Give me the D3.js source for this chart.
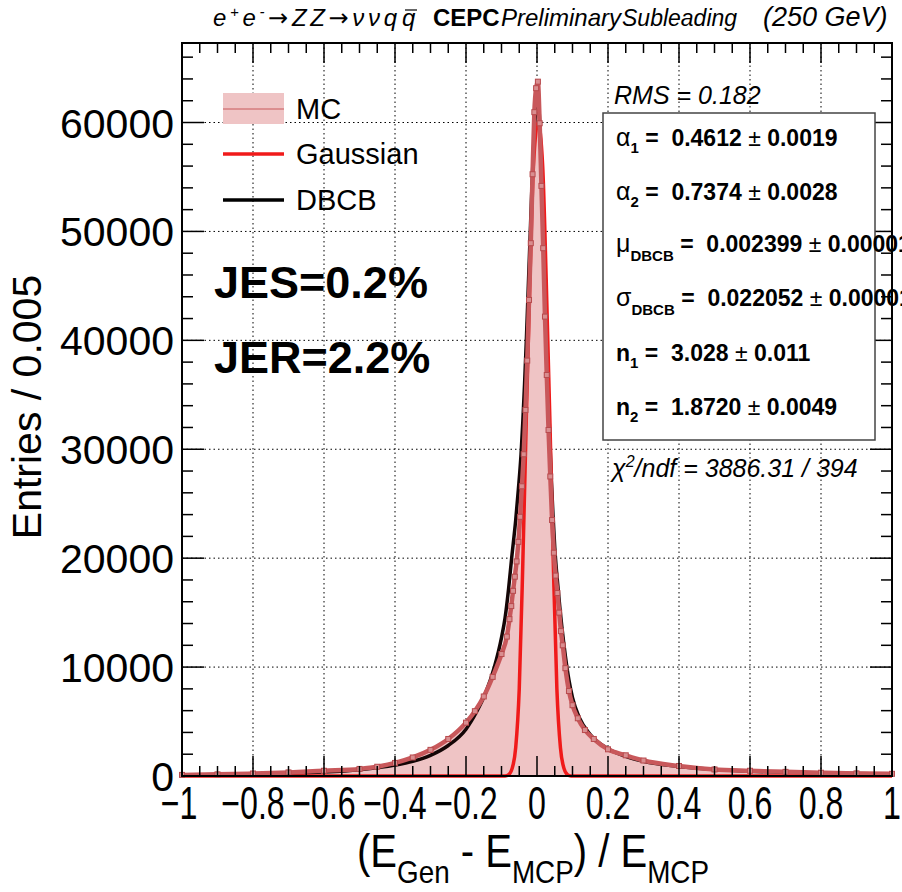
<!DOCTYPE html>
<html>
<head>
<meta charset="utf-8">
<script src="https://cdn.jsdelivr.net/npm/d3@7"></script>
<style>
    body { margin: 0; background: #fff; }
    svg { display: block; }
    text { font-family: "Liberation Sans", Arial, Helvetica, sans-serif; white-space: pre; }
</style>
</head>
<body>
<div id="chart"></div>
<script>
// MC histogram (bin centres, entries / 0.005)
let mcX = [-1.0, -0.9, -0.8, -0.7, -0.6, -0.5, -0.45, -0.4, -0.35, -0.3, -0.25, -0.2, -0.175, -0.15, -0.125, -0.1,
    -0.085, -0.0775, -0.0725, -0.0675, -0.0625, -0.0575, -0.0525, -0.0475, -0.0425, -0.0375, -0.0325, -0.0275,
    -0.0225, -0.0175, -0.0125, -0.0075, -0.0025, 0.0025, 0.0075, 0.0125, 0.0175, 0.0225, 0.0275, 0.0325, 0.0375,
    0.0425, 0.0475, 0.0525, 0.0575, 0.0625, 0.0675, 0.0725, 0.08, 0.09, 0.1, 0.115, 0.135, 0.16, 0.2, 0.25, 0.3,
    0.4, 0.5, 0.6, 0.7, 0.8, 0.9, 1.0];
let mcY = [100, 150, 230, 330, 480, 650, 850, 1200, 1700, 2400, 3400, 4900, 5950, 7300, 9100, 11200,
    12800, 14400, 15600, 17000, 18300, 19700, 21500, 23800, 26600, 29540, 33610, 38140,
    43710, 48920, 55250, 60950, 63150, 63750, 59930, 54180, 48460, 42180, 36820, 31770, 27500,
    23500, 20500, 18400, 16800, 15000, 13300, 12000, 9900, 7800, 6500, 5300, 4220, 3400, 2450, 1900, 1420,
    920, 600, 480, 380, 300, 240, 200];

// DBCB fit curve
let dbcbX = [-1.0, -0.9, -0.8, -0.7, -0.6, -0.5, -0.4, -0.35, -0.3, -0.25, -0.2, -0.17, -0.145, -0.12, -0.1, -0.09,
    -0.08, -0.0714, -0.06, -0.0526, -0.045, -0.04, -0.035, -0.03, -0.025, -0.02, -0.015, -0.01, -0.005, 0.003,
    0.01, 0.015, 0.02, 0.025, 0.03, 0.035, 0.04, 0.045, 0.05, 0.06, 0.07, 0.08, 0.09, 0.1, 0.12, 0.15, 0.2,
    0.25, 0.3, 0.4, 0.5, 0.6, 0.7, 0.8, 0.9, 1.0];
let dbcbY = [90, 120, 170, 240, 360, 580, 1000, 1350, 1900, 2800, 4300, 5900, 7600, 10000, 12700, 14500,
    17200, 20000, 23500, 26260, 29500, 32500, 36000, 40000, 44500, 49000, 53500, 57500, 60500, 62100,
    58000, 53000, 47500, 42000, 37000, 32000, 27500, 24000, 21000, 17000, 13700, 11000, 8800, 7200, 5300, 3800, 2500,
    1800, 1350, 880, 600, 440, 340, 270, 220, 180];

// Gaussian fit curve
let gausX = [-1.0, -0.1, -0.09, -0.08, -0.07, -0.06, -0.05, -0.04, -0.03, -0.02, -0.01, 0.003,
    0.016, 0.026, 0.036, 0.046, 0.056, 0.066, 0.076, 0.086, 0.096, 0.106, 1.0];
let gausY = [0, 0, 10, 120, 700, 2600, 8000, 19500, 33000, 45500, 56000, 60000,
    56000, 45500, 33000, 19500, 8000, 2600, 700, 120, 10, 0, 0];

let xTicks = [-1, -0.8, -0.6, -0.4, -0.2, 0, 0.2, 0.4, 0.6, 0.8, 1];
let xTickLabels = ["\u22121", "\u22120.8", "\u22120.6", "\u22120.4", "\u22120.2", "0", "0.2", "0.4", "0.6", "0.8", "1"];
let yTicks = [0, 10000, 20000, 30000, 40000, 50000, 60000];

let statNames = ["\u03b1|1", "\u03b1|2", "\u03bc|DBCB", "\u03c3|DBCB", "n|1", "n|2"];
let statValues = ["0.4612", "0.7374", "0.002399", "0.022052", "3.028", "1.8720"];
let statErrors = ["0.0019", "0.0028", "0.000012", "0.000013", "0.011", "0.0049"];

let legendLabels = ["MC", "Gaussian", "DBCB"];

let width = 902, height = 892;
let pLeft = 182, pRight = 892, pTop = 43, pBottom = 776;

let svg = d3.select("#chart").append("svg")
    .attr("width", width)
    .attr("height", height);

let x = d3.scaleLinear().domain([-1, 1]).range([pLeft, pRight]);
let y = d3.scaleLinear().domain([0, 67300]).range([pBottom, pTop]);

// dotted grid
let grid = svg.append("g");
grid.selectAll(".gx")
    .data(xTicks.slice(1, -1))
    .enter().append("line")
    .attr("x1", d => x(d)).attr("x2", d => x(d))
    .attr("y1", pTop).attr("y2", pBottom)
    .attr("stroke", "#000").attr("stroke-width", 1)
    .attr("stroke-dasharray", "1.5,3");
grid.selectAll(".gy")
    .data(yTicks.slice(1))
    .enter().append("line")
    .attr("x1", pLeft).attr("x2", pRight)
    .attr("y1", d => y(d)).attr("y2", d => y(d))
    .attr("stroke", "#000").attr("stroke-width", 1)
    .attr("stroke-dasharray", "1.5,3");

let mcData = mcX.map((v, i) => ({x: v, y: mcY[i]}));
let dbcbData = dbcbX.map((v, i) => ({x: v, y: dbcbY[i]}));
let gausData = gausX.map((v, i) => ({x: v, y: gausY[i]}));

let plot = svg.append("g");

// MC filled histogram
plot.append("path")
    .datum(mcData)
    .attr("d", d3.area().x(d => x(d.x)).y0(y(0)).y1(d => y(d.y)).curve(d3.curveMonotoneX))
    .attr("fill", "#efc4c5");

// DBCB
plot.append("path")
    .datum(dbcbData)
    .attr("d", d3.line().x(d => x(d.x)).y(d => y(d.y)).curve(d3.curveMonotoneX))
    .attr("fill", "none")
    .attr("stroke", "#140606")
    .attr("stroke-width", 3.5);

// Gaussian
plot.append("path")
    .datum(gausData)
    .attr("d", d3.line().x(d => x(d.x)).y(d => y(d.y)).curve(d3.curveMonotoneX))
    .attr("fill", "none")
    .attr("stroke", "#f01a1a")
    .attr("stroke-width", 3.5);

// MC markers band
plot.append("path")
    .datum(mcData)
    .attr("d", d3.line().x(d => x(d.x)).y(d => y(d.y)).curve(d3.curveMonotoneX))
    .attr("fill", "none")
    .attr("stroke", "#c8585b")
    .attr("stroke-width", 4.5)
    .attr("stroke-linejoin", "round");

plot.selectAll(".mk")
    .data(mcData)
    .enter().append("rect")
    .attr("x", d => x(d.x) - 2.5)
    .attr("y", d => y(d.y) - 2.5)
    .attr("width", 5).attr("height", 5)
    .attr("fill", "#d98e90")
    .attr("stroke", "#b84a4d")
    .attr("stroke-width", 1);

// frame
svg.append("rect")
    .attr("x", pLeft).attr("y", pTop)
    .attr("width", pRight - pLeft).attr("height", pBottom - pTop)
    .attr("fill", "none")
    .attr("stroke", "#000")
    .attr("stroke-width", 2);

// ticks on all four sides
let xMinor = d3.range(-1, 1.0001, 0.05);
let yMinor = d3.range(0, 67001, 2000);
let tk = svg.append("g").attr("stroke", "#000").attr("stroke-width", 1.5);
xMinor.forEach(function (v) {
    let major = Math.abs(v * 5 - Math.round(v * 5)) < 1e-6;
    let len = major ? 20 : 10;
    tk.append("line").attr("x1", x(v)).attr("x2", x(v)).attr("y1", pBottom).attr("y2", pBottom - len);
    tk.append("line").attr("x1", x(v)).attr("x2", x(v)).attr("y1", pTop).attr("y2", pTop + len);
});
yMinor.forEach(function (v) {
    let major = v % 10000 === 0;
    let len = major ? 22 : 11;
    tk.append("line").attr("y1", y(v)).attr("y2", y(v)).attr("x1", pLeft).attr("x2", pLeft + len);
    tk.append("line").attr("y1", y(v)).attr("y2", y(v)).attr("x1", pRight).attr("x2", pRight - len);
});

// tick labels (x labels are drawn condensed, as in the original)
svg.selectAll(".xl")
    .data(xTicks)
    .enter().append("text")
    .attr("transform", (d, i) => "translate(" + (x(d) - (i === 0 ? 3 : 0)) + ",819) scale(0.7,1)")
    .attr("text-anchor", "middle")
    .attr("font-size", 46)
    .text((d, i) => xTickLabels[i]);

svg.selectAll(".yl")
    .data(yTicks)
    .enter().append("text")
    .attr("x", 174)
    .attr("y", d => y(d) + 15)
    .attr("text-anchor", "end")
    .attr("font-size", 41)
    .text(d => d);

// axis titles
svg.append("text")
    .attr("transform", "translate(41,407) rotate(-90)")
    .attr("text-anchor", "middle")
    .attr("font-size", 41)
    .text("Entries / 0.005");

let xt = svg.append("text")
    .attr("transform", "translate(357,867) scale(0.87,1)")
    .attr("font-size", 46);
xt.append("tspan").text("(E");
xt.append("tspan").attr("font-size", 32).attr("dy", 16).text("Gen");
xt.append("tspan").attr("dy", -16).text(" - E");
xt.append("tspan").attr("font-size", 32).attr("dy", 16).text("MCP");
xt.append("tspan").attr("dy", -16).text(") / E");
xt.append("tspan").attr("font-size", 32).attr("dy", 16).text("MCP");

// header
let h = svg.append("text").attr("x", 213).attr("y", 26).attr("font-size", 24).attr("font-style", "italic")
    .attr("textLength", 184).attr("lengthAdjust", "spacing");
h.append("tspan").text("e");
h.append("tspan").attr("font-size", 15).attr("dy", -9).text("+");
h.append("tspan").attr("dy", 9).text("e");
h.append("tspan").attr("font-size", 15).attr("dy", -9).text("-");
h.append("tspan").attr("dy", 9).style("font-family", "'DejaVu Sans'").attr("font-style", "normal").text("\u2192");
h.append("tspan").text("ZZ");
h.append("tspan").style("font-family", "'DejaVu Sans'").attr("font-style", "normal").text("\u2192");
h.append("tspan").text("\u03bd\u03bdq");
let qbar = svg.append("text").attr("x", 402).attr("y", 26).attr("font-size", 24).attr("font-style", "italic").text("q");
let qb = qbar.node().getBBox();
svg.append("line")
    .attr("x1", qb.x + 3).attr("x2", qb.x + qb.width + 1)
    .attr("y1", 10).attr("y2", 10)
    .attr("stroke", "#000").attr("stroke-width", 1.2);
svg.append("text").attr("x", 433).attr("y", 26).attr("font-size", 24).attr("font-weight", "bold").text("CEPC");
svg.append("text").attr("x", 501).attr("y", 26).attr("font-size", 24).attr("font-style", "italic").text("Preliminary");
svg.append("text").attr("x", 622).attr("y", 26).attr("font-size", 23).attr("font-style", "italic").text("Subleading");
svg.append("text").attr("x", 763).attr("y", 26).attr("font-size", 27).attr("font-style", "italic").text("(250 GeV)");

// legend
let lg = svg.append("g");
let lgY = [109, 154, 200];
lg.append("rect").attr("x", 223).attr("y", 93).attr("width", 61).attr("height", 31).attr("fill", "#efc4c5");
lg.append("line").attr("x1", 223).attr("x2", 284).attr("y1", 109).attr("y2", 109)
    .attr("stroke", "#c8585b").attr("stroke-width", 1);
lg.append("line").attr("x1", 223).attr("x2", 284).attr("y1", lgY[1]).attr("y2", lgY[1])
    .attr("stroke", "#f01a1a").attr("stroke-width", 3.5);
lg.append("line").attr("x1", 223).attr("x2", 284).attr("y1", lgY[2]).attr("y2", lgY[2])
    .attr("stroke", "#000").attr("stroke-width", 3.5);
lg.selectAll("text")
    .data(legendLabels)
    .enter().append("text")
    .attr("x", 296)
    .attr("y", (d, i) => lgY[i] + 10)
    .attr("font-size", 29)
    .text(d => d);

// JES / JER
svg.append("text").attr("x", 214).attr("y", 298).attr("font-size", 45).attr("font-weight", "bold").text("JES=0.2%");
svg.append("text").attr("x", 214).attr("y", 373).attr("font-size", 45).attr("font-weight", "bold").text("JER=2.2%");

// fit stats box
svg.append("text").attr("x", 614).attr("y", 104).attr("font-size", 25).attr("font-style", "italic").text("RMS = 0.182");
svg.append("rect")
    .attr("x", 603).attr("y", 113).attr("width", 272).attr("height", 327)
    .attr("fill", "#fff").attr("stroke", "#444").attr("stroke-width", 1.5);

let stY = [146, 200, 252, 306, 361, 415];
statNames.forEach(function (s, i) {
    let parts = s.split("|");
    let t = svg.append("text").attr("x", 616).attr("y", stY[i]).attr("font-size", 23).attr("font-weight", "bold");
    let greek = parts[0] !== "n";
    t.append("tspan").attr("font-weight", greek ? "normal" : "bold").attr("font-size", greek ? 25 : 23).text(parts[0]);
    let sub = parts[1].length > 1;
    t.append("tspan").attr("font-size", 15).attr("dy", sub ? 9 : 7).text(parts[1]);
    t.append("tspan").attr("dy", sub ? -9 : -7).text(" =  " + statValues[i] + " ");
    t.append("tspan").attr("font-weight", "normal").text("\u00b1 ");
    t.append("tspan").text(statErrors[i]);
});

let chi = svg.append("text").attr("x", 612).attr("y", 477).attr("font-size", 25).attr("font-style", "italic");
chi.append("tspan").text("\u03c7");
chi.append("tspan").attr("font-size", 16).attr("dy", -10).text("2");
chi.append("tspan").attr("dy", 10).text("/ndf = 3886.31 / 394");
</script>
</body>
</html>
